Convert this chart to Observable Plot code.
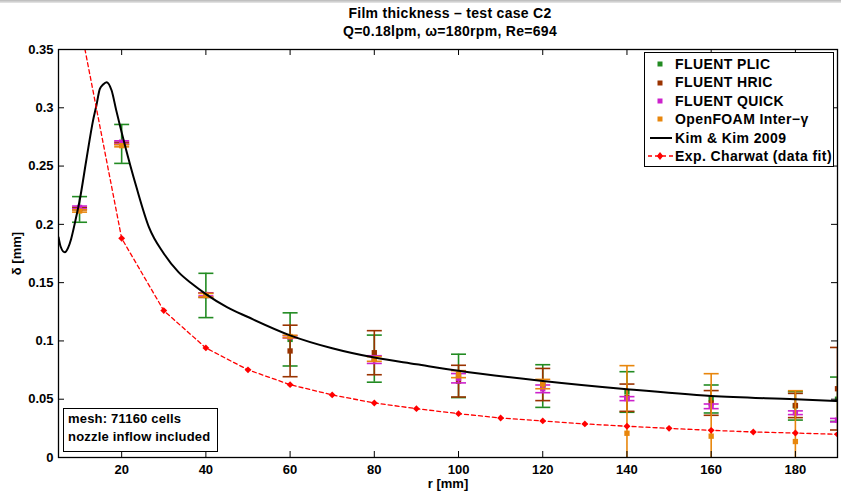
<!DOCTYPE html>
<html>
<head>
<meta charset="utf-8">
<script src="https://cdn.jsdelivr.net/npm/d3@7"></script>
<script src="https://cdn.jsdelivr.net/npm/@observablehq/plot@0.6"></script>
<style>
  body { margin:0; width:841px; height:491px; overflow:hidden; position:relative; background:#fff;
         font-family:'Liberation Sans', Arial, sans-serif; }
  #topband { position:absolute; left:0; top:0; width:841px; height:3px; background:linear-gradient(#b8b8b8,#e8e8e8); }
  #title { height:40px; position:relative; }
  #title div { position:absolute; left:0; width:900px; text-align:center; font-weight:bold; font-size:14px;
               letter-spacing:0.3px; line-height:16px; white-space:nowrap; }
  #legend { position:absolute; left:644px; top:52px; width:190px; height:115px; border:1px solid #000; background:#fff;
            box-sizing:border-box; padding-top:2px; }
  #legend .row { height:18.4px; line-height:18.4px; display:flex; align-items:center; white-space:nowrap;
                 font-weight:bold; font-size:14px; letter-spacing:0.4px; }
  #legend .sym { width:30px; height:18px; flex:none; }
  #note { position:absolute; left:63px; top:408px; width:155px; height:44px; border:1px solid #000; background:#fff;
          box-sizing:border-box; padding:1px 0 0 4px; font-weight:bold; font-size:13px; line-height:18px; letter-spacing:0.2px; }
</style>
</head>
<body>
<div id="topband"></div>
<div id="title"></div>
<div id="chart"></div>
<div id="legend"></div>
<div id="note"></div>
<script>
// ---------------- data ----------------
const titleText = "Film thickness \u2013 test case C2";
const subtitleText = "Q=0.18lpm, \u03c9=180rpm, Re=694";
const xLabel = "r [mm]";
const yLabel = "\u03b4 [mm]";
const noteLines = ["mesh: 71160 cells", "nozzle inflow included"];

const xTicks = [20, 40, 60, 80, 100, 120, 140, 160, 180];
const yTicks = [0, 0.05, 0.1, 0.15, 0.2, 0.25, 0.3, 0.35];

const seriesNames = ["FLUENT PLIC", "FLUENT HRIC", "FLUENT QUICK", "OpenFOAM Inter\u2212\u03b3"];
const seriesColors = ["#228b22", "#9a3300", "#cc22cc", "#e8860c"];
const kimName = "Kim & Kim 2009";
const expName = "Exp. Charwat (data fit)";

const rCFD = [10, 20, 40, 60, 80, 100, 120, 140, 160, 180, 190];
const plicMean  = [0.2128, 0.2690, 0.1390, 0.1013, 0.0848, 0.0700, 0.0613, 0.0562, 0.0502, 0.0443, 0.0500];
const plicErr   = [0.0110, 0.0167, 0.0190, 0.0228, 0.0202, 0.0186, 0.0183, 0.0174, 0.0120, 0.0122, 0.0190];
const hricMean  = [0.2135, 0.2695, 0.1393, 0.0914, 0.0899, 0.0655, 0.0626, 0.0513, 0.0468, 0.0446, 0.0590];
const hricErr   = [0.0010, 0.0010, 0.0020, 0.0221, 0.0189, 0.0136, 0.0138, 0.0117, 0.0106, 0.0104, 0.0354];
const quickMean = [0.2145, 0.2705, 0.1398, 0.1035, 0.0840, 0.0680, 0.0589, 0.0505, 0.0439, 0.0384, 0.0320];
const quickErr  = [0.0012, 0.0012, 0.0012, 0.0010, 0.0033, 0.0040, 0.0033, 0.0017, 0.0020, 0.0016, 0.0015];
const foamMean  = [0.2115, 0.2675, 0.1392, 0.1038, 0.0845, 0.0715, 0.0630, 0.0208, 0.0183, 0.0137, null];
const foamErr   = [0.0010, 0.0010, 0.0015, 0.0010, 0.0020, 0.0030, 0.0040, 0.0580, 0.0536, 0.0436, null];

const kimR     = [5, 5.5, 6.5, 7.3, 8, 9, 10, 11.6, 13.2, 14, 14.8, 15.6, 16.4, 17.6, 18.7, 20.7, 23.5, 26.5, 30, 33.5, 36.7, 40, 45, 50, 60, 70, 80, 90, 100, 120, 140, 160, 180, 190];
const kimDelta = [0.189, 0.181, 0.176, 0.180, 0.1875, 0.203, 0.220, 0.255, 0.289, 0.302, 0.316, 0.320, 0.322, 0.315, 0.298, 0.269, 0.232, 0.1974, 0.175, 0.159, 0.149, 0.1402, 0.129, 0.1205, 0.1048, 0.0937, 0.0857, 0.080, 0.0744, 0.0657, 0.0586, 0.0528, 0.0500, 0.0485];

const expR     = [10, 20, 30, 40, 50, 60, 70, 80, 90, 100, 110, 120, 130, 140, 150, 160, 170, 180, 190];
const expDelta = [0.374, 0.188, 0.126, 0.094, 0.0752, 0.0625, 0.0537, 0.0468, 0.0419, 0.0376, 0.0339, 0.0314, 0.0288, 0.0268, 0.0250, 0.0233, 0.0219, 0.0210, 0.0199];

// ---------------- tables ----------------
const means = [plicMean, hricMean, quickMean, foamMean];
const errs = [plicErr, hricErr, quickErr, foamErr];
const cfd = seriesNames.map((name, k) =>
  rCFD.map((r, i) => ({name, r, mean: means[k][i], err: errs[k][i]})).filter(d => d.mean != null));
const kim = kimR.map((r, i) => ({r, d: kimDelta[i]}));
const exp = expR.map((r, i) => ({r, d: expDelta[i]}));

const capSymbol = {draw(ctx, size) { const w = Math.sqrt(size / Math.PI); ctx.moveTo(-w, 0); ctx.lineTo(w, 0); }};

const W = 841, H = 451, mT = 9, mB = 34, mL = 58, mR = 4;
const FH = H - mT - mB, FW = W - mL - mR;

const marks = [];
cfd.forEach((rows, k) => {
  const c = seriesColors[k];
  marks.push(
    Plot.ruleX(rows, {x: "r", y1: d => d.mean - d.err, y2: d => d.mean + d.err, stroke: c, strokeWidth: 1.6, clip: true}),
    Plot.dot(rows, {x: "r", y: d => d.mean + d.err, symbol: capSymbol, r: 7.5, stroke: c, strokeWidth: 1.6, fill: "none", clip: true}),
    Plot.dot(rows, {x: "r", y: d => d.mean - d.err, symbol: capSymbol, r: 7.5, stroke: c, strokeWidth: 1.6, fill: "none", clip: true}),
    Plot.dot(rows, {x: "r", y: "mean", symbol: "square", r: 3, fill: c, stroke: "none", clip: true})
  );
});
marks.push(
  Plot.line(kim, {x: "r", y: "d", stroke: "black", strokeWidth: 2, curve: "monotone-x", clip: true}),
  Plot.line(exp, {x: "r", y: "d", stroke: "red", strokeWidth: 1.3, strokeDasharray: "4,3", clip: true}),
  Plot.dot(exp, {x: "r", y: "d", symbol: "diamond2", r: 3.1, fill: "red", stroke: "none", clip: true}),
  Plot.tickX(xTicks, {x: d => d, insetTop: FH - 6, stroke: "black", strokeWidth: 1}),
  Plot.tickX(xTicks, {x: d => d, insetBottom: FH - 6, stroke: "black", strokeWidth: 1}),
  Plot.tickY(yTicks, {y: d => d, insetRight: FW - 6, stroke: "black", strokeWidth: 1}),
  Plot.tickY(yTicks, {y: d => d, insetLeft: FW - 6, stroke: "black", strokeWidth: 1}),
  Plot.frame({stroke: "black", strokeWidth: 1.3}),
  Plot.axisX({ticks: xTicks, tickSize: 0, tickPadding: 7, tickFormat: d => String(d),
              label: xLabel, labelAnchor: "center", labelOffset: 30, labelArrow: "none"}),
  Plot.axisY({ticks: yTicks, tickSize: 0, tickPadding: 5, tickFormat: d => String(+d.toFixed(2)),
              label: yLabel, labelAnchor: "center", labelOffset: 47, labelArrow: "none"})
);

const chart = Plot.plot({
  width: W, height: H, marginTop: mT, marginBottom: mB, marginLeft: mL, marginRight: mR,
  x: {domain: [5, 190]},
  y: {domain: [0, 0.35]},
  style: {fontFamily: "'Liberation Sans', Arial, sans-serif", fontSize: "13px", fontWeight: "bold",
          color: "black", background: "white", overflow: "visible"},
  marks
});
document.getElementById("chart").appendChild(chart);

// ---------------- title ----------------
const titleBox = document.getElementById("title");
[[titleText, 5], [subtitleText, 23]].forEach(([t, top]) => {
  const d = document.createElement("div");
  d.style.top = top + "px";
  d.textContent = t;
  titleBox.appendChild(d);
});

// ---------------- legend ----------------
const legend = document.getElementById("legend");
const entries = seriesNames.map((n, k) => ({name: n, kind: "square", color: seriesColors[k]}))
  .concat([{name: kimName, kind: "line", color: "black"}, {name: expName, kind: "exp", color: "red"}]);
entries.forEach(e => {
  const row = document.createElement("div"); row.className = "row";
  let sym;
  if (e.kind === "square") sym = `<rect x="12.5" y="6.5" width="5" height="5" fill="${e.color}"/>`;
  else if (e.kind === "line") sym = `<line x1="5" x2="27" y1="9" y2="9" stroke="black" stroke-width="2"/>`;
  else sym = `<line x1="3" x2="28" y1="9" y2="9" stroke="red" stroke-width="1.5" stroke-dasharray="4,3"/><path d="M15,5L18.2,9L15,13L11.8,9Z" fill="red"/>`;
  row.innerHTML = `<svg class="sym" width="30" height="18">${sym}</svg><span>${e.name}</span>`;
  legend.appendChild(row);
});

// ---------------- note ----------------
document.getElementById("note").innerHTML = noteLines.map(t => `<div>${t}</div>`).join("");
</script>
</body>
</html>
